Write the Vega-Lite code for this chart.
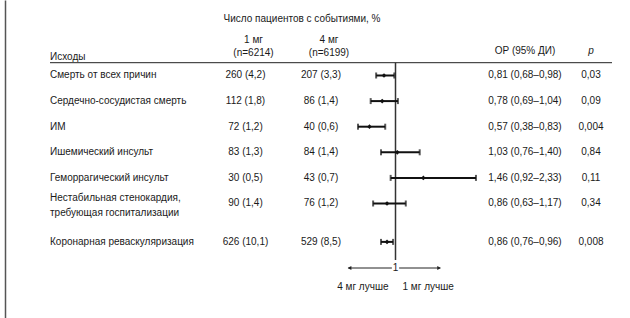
{
  "$schema": "https://vega.github.io/schema/vega-lite/v6.json",
  "padding": {"left": 5, "top": 0, "right": 0, "bottom": 0},
  "bounds": "flush",
  "spacing": 0,
  "config": {
    "view": {"stroke": null},
    "font": "Liberation Sans",
    "text": {"font": "Liberation Sans", "fontSize": 10, "color": "#1a1a1a", "baseline": "middle"}
  },
  "datasets": {
    "rows": [
      {"row": 1, "outcome": "Смерть от всех причин", "n1": "260 (4,2)", "n4": "207 (3,3)", "hr": 0.81, "lo": 0.68, "hi": 0.98, "hrText": "0,81 (0,68–0,98)", "p": "0,03"},
      {"row": 2, "outcome": "Сердечно-сосудистая смерть", "n1": "112 (1,8)", "n4": "86 (1,4)", "hr": 0.78, "lo": 0.59, "hi": 1.04, "hrText": "0,78 (0,69–1,04)", "p": "0,09"},
      {"row": 3, "outcome": "ИМ", "n1": "72 (1,2)", "n4": "40 (0,6)", "hr": 0.57, "lo": 0.38, "hi": 0.83, "hrText": "0,57 (0,38–0,83)", "p": "0,004"},
      {"row": 4, "outcome": "Ишемический инсульт", "n1": "83 (1,3)", "n4": "84 (1,4)", "hr": 1.03, "lo": 0.76, "hi": 1.40, "hrText": "1,03 (0,76–1,40)", "p": "0,84"},
      {"row": 5, "outcome": "Геморрагический инсульт", "n1": "30 (0,5)", "n4": "43 (0,7)", "hr": 1.46, "lo": 0.92, "hi": 2.33, "hrText": "1,46 (0,92–2,33)", "p": "0,11"},
      {"row": 6, "outcome": ["Нестабильная стенокардия,", "требующая госпитализации"], "n1": "90 (1,4)", "n4": "76 (1,2)", "hr": 0.86, "lo": 0.63, "hi": 1.17, "hrText": "0,86 (0,63–1,17)", "p": "0,34"},
      {"row": 7.5, "outcome": "Коронарная реваскуляризация", "n1": "626 (10,1)", "n4": "529 (8,5)", "hr": 0.86, "lo": 0.76, "hi": 0.96, "hrText": "0,86 (0,76–0,96)", "p": "0,008"}
    ]
  },
  "hconcat": [
    {
      "width": 45, "height": 318,
      "data": {"name": "rows"},
      "mark": {"type": "point", "opacity": 0},
      "encoding": {
        "y": {"field": "row", "type": "quantitative", "scale": {"domain": [-1.949, 10.473], "reverse": true, "nice": false, "zero": false},
              "axis": {"domain": true, "domainColor": "#555", "domainWidth": 1.5, "ticks": false, "labels": false, "title": null, "grid": false}}
      }
    },
    {
      "width": 145, "height": 318,
      "data": {"name": "rows"},
      "encoding": {"y": {"field": "row", "type": "quantitative", "scale": {"domain": [-1.949, 10.473], "reverse": true, "nice": false, "zero": false}, "axis": null}},
      "layer": [
        {"transform": [{"filter": "datum.row != 6"}], "mark": {"type": "text", "align": "left"}, "encoding": {"x": {"value": 0}, "text": {"field": "outcome"}}},
        {"transform": [{"filter": "datum.row == 6"}], "mark": {"type": "text", "align": "left", "lineHeight": 15, "dy": -5}, "encoding": {"x": {"value": 0}, "text": {"field": "outcome"}}},
        {"transform": [{"filter": "datum.row == 1"}], "mark": {"type": "text", "align": "left", "baseline": "alphabetic"}, "encoding": {"x": {"value": 0}, "y": {"datum": 0.39}, "text": {"value": "Исходы"}}},
        {"transform": [{"filter": "datum.row == 1"}], "mark": {"type": "rule", "color": "#222", "strokeWidth": 1}, "encoding": {"x": {"value": 0}, "x2": {"value": "width"}, "y": {"datum": 0.50}}}
      ]
    },
    {
      "width": 107, "height": 318,
      "data": {"name": "rows"},
      "encoding": {"y": {"field": "row", "type": "quantitative", "scale": {"domain": [-1.949, 10.473], "reverse": true, "nice": false, "zero": false}, "axis": null}},
      "layer": [
        {"mark": {"type": "text", "align": "center", "dx": -3}, "encoding": {"text": {"field": "n1"}}},
        {"transform": [{"filter": "datum.row == 1"}], "mark": {"type": "text", "align": "center", "dx": 5}, "encoding": {"y": {"datum": -0.387}, "text": {"value": "1 мг"}}},
        {"transform": [{"filter": "datum.row == 1"}], "mark": {"type": "text", "align": "center", "dx": 5}, "encoding": {"y": {"datum": 0.121}, "text": {"value": "(n=6214)"}}},
        {"transform": [{"filter": "datum.row == 1"}], "mark": {"type": "text", "align": "center"}, "encoding": {"x": {"value": "width"}, "y": {"datum": -1.207}, "text": {"value": "Число пациентов с событиями, %"}}},
        {"transform": [{"filter": "datum.row == 1"}], "mark": {"type": "rule", "color": "#222", "strokeWidth": 1}, "encoding": {"x": {"value": 0}, "x2": {"value": "width"}, "y": {"datum": 0.50}}}
      ]
    },
    {
      "width": 38, "height": 318,
      "data": {"name": "rows"},
      "encoding": {"y": {"field": "row", "type": "quantitative", "scale": {"domain": [-1.949, 10.473], "reverse": true, "nice": false, "zero": false}, "axis": null}},
      "layer": [
        {"mark": {"type": "text", "align": "center"}, "encoding": {"text": {"field": "n4"}}},
        {"transform": [{"filter": "datum.row == 1"}], "mark": {"type": "text", "align": "center", "dx": 8}, "encoding": {"y": {"datum": -0.387}, "text": {"value": "4 мг"}}},
        {"transform": [{"filter": "datum.row == 1"}], "mark": {"type": "text", "align": "center", "dx": 8}, "encoding": {"y": {"datum": 0.121}, "text": {"value": "(n=6199)"}}},
        {"transform": [{"filter": "datum.row == 1"}], "mark": {"type": "rule", "color": "#222", "strokeWidth": 1}, "encoding": {"x": {"value": 0}, "x2": {"value": "width"}, "y": {"datum": 0.50}}}
      ]
    },
    {
      "width": 140, "height": 318,
      "data": {"name": "rows"},
      "encoding": {
        "y": {"field": "row", "type": "quantitative", "scale": {"domain": [-1.949, 10.473], "reverse": true, "nice": false, "zero": false}, "axis": null},
        "x": {"field": "hr", "type": "quantitative", "scale": {"domain": [0.0826, 2.3967], "nice": false, "zero": false}, "axis": null}
      },
      "layer": [
        {"transform": [{"filter": "datum.row == 1"}], "mark": {"type": "rule", "color": "#222", "strokeWidth": 1}, "encoding": {"x": {"value": 0}, "x2": {"value": "width"}, "y": {"datum": 0.50}}},
        {"transform": [{"filter": "datum.row == 1"}], "mark": {"type": "rule", "color": "#333", "strokeWidth": 1.5}, "encoding": {"x": {"datum": 1}, "y": {"datum": 0.50}, "y2": {"datum": 8.207}}},
        {"mark": {"type": "rule", "color": "#111", "strokeWidth": 2}, "encoding": {"x": {"field": "lo"}, "x2": {"field": "hi"}}},
        {"mark": {"type": "tick", "color": "#111", "orient": "vertical", "size": 6, "thickness": 2}, "encoding": {"x": {"field": "lo"}}},
        {"mark": {"type": "tick", "color": "#111", "orient": "vertical", "size": 6, "thickness": 2}, "encoding": {"x": {"field": "hi"}}},
        {"mark": {"type": "point", "shape": "diamond", "filled": true, "color": "#111", "size": 22, "opacity": 1}},
        {"transform": [{"filter": "datum.row == 1"}], "mark": {"type": "rule", "color": "#222", "strokeWidth": 1}, "encoding": {"x": {"datum": 0.22}, "x2": {"datum": 0.94}, "y": {"datum": 8.52}}},
        {"transform": [{"filter": "datum.row == 1"}], "mark": {"type": "rule", "color": "#222", "strokeWidth": 1}, "encoding": {"x": {"datum": 1.06}, "x2": {"datum": 1.74}, "y": {"datum": 8.52}}},
        {"transform": [{"filter": "datum.row == 1"}], "mark": {"type": "point", "shape": "triangle-left", "filled": true, "color": "#222", "size": 18, "opacity": 1}, "encoding": {"x": {"datum": 0.24}, "y": {"datum": 8.52}}},
        {"transform": [{"filter": "datum.row == 1"}], "mark": {"type": "point", "shape": "triangle-right", "filled": true, "color": "#222", "size": 18, "opacity": 1}, "encoding": {"x": {"datum": 1.72}, "y": {"datum": 8.52}}},
        {"transform": [{"filter": "datum.row == 1"}], "mark": {"type": "text", "align": "center"}, "encoding": {"x": {"datum": 1}, "y": {"datum": 8.52}, "text": {"value": "1"}}},
        {"transform": [{"filter": "datum.row == 1"}], "mark": {"type": "text", "align": "right", "dx": -7}, "encoding": {"x": {"datum": 1}, "y": {"datum": 9.262}, "text": {"value": "4 мг лучше"}}},
        {"transform": [{"filter": "datum.row == 1"}], "mark": {"type": "text", "align": "left", "dx": 7}, "encoding": {"x": {"datum": 1}, "y": {"datum": 9.262}, "text": {"value": "1 мг лучше"}}}
      ]
    },
    {
      "width": 90, "height": 318,
      "data": {"name": "rows"},
      "encoding": {"y": {"field": "row", "type": "quantitative", "scale": {"domain": [-1.949, 10.473], "reverse": true, "nice": false, "zero": false}, "axis": null}},
      "layer": [
        {"mark": {"type": "text", "align": "center"}, "encoding": {"text": {"field": "hrText"}}},
        {"transform": [{"filter": "datum.row == 1"}], "mark": {"type": "text", "align": "center"}, "encoding": {"y": {"datum": 0.043}, "text": {"value": "ОР (95% ДИ)"}}},
        {"transform": [{"filter": "datum.row == 1"}], "mark": {"type": "rule", "color": "#222", "strokeWidth": 1}, "encoding": {"x": {"value": 0}, "x2": {"value": "width"}, "y": {"datum": 0.50}}}
      ]
    },
    {
      "width": 42, "height": 318,
      "data": {"name": "rows"},
      "encoding": {"y": {"field": "row", "type": "quantitative", "scale": {"domain": [-1.949, 10.473], "reverse": true, "nice": false, "zero": false}, "axis": null}},
      "layer": [
        {"mark": {"type": "text", "align": "center"}, "encoding": {"text": {"field": "p"}}},
        {"transform": [{"filter": "datum.row == 1"}], "mark": {"type": "text", "align": "center", "fontStyle": "italic"}, "encoding": {"y": {"datum": 0.043}, "text": {"value": "p"}}},
        {"transform": [{"filter": "datum.row == 1"}], "mark": {"type": "rule", "color": "#222", "strokeWidth": 1}, "encoding": {"x": {"value": 0}, "x2": {"value": "width"}, "y": {"datum": 0.50}}}
      ]
    }
  ]
}
